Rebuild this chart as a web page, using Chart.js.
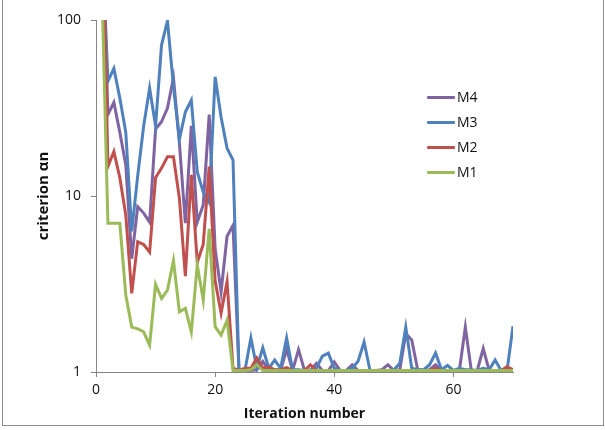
<!DOCTYPE html>
<html>
<head>
<meta charset="utf-8">
<script src="https://cdn.jsdelivr.net/npm/chart.js@4.4.1/dist/chart.umd.min.js"></script>
<style>
  body { margin: 0; background: #fff; }
  #wrap { position: relative; width: 605px; height: 430px; overflow: hidden; }
  #frame { position: absolute; left: 2px; top: -1px; width: 600px; height: 425px; border: 1px solid #8e8e8e; }
  #chart { position: absolute; left: 0; top: 0; }
  #legend { position: absolute; left: 427px; top: 87px; font-family: 'Open Sans', sans-serif; font-size: 14px; color: #111; }
  .item { position: relative; height: 25px; }
  .item span.swatch { position: absolute; left: 0; top: 9px; width: 28px; height: 3px; border-radius: 1px; }
  .item span.label { position: absolute; left: 30px; top: 0; line-height: 20px; }
</style>
</head>
<body>
<div id="wrap">
  <div id="frame"></div>
  <canvas id="chart" width="605" height="430"></canvas>
  <div id="legend"></div>
</div>
<script>
// iteration index (x)
const iterations = [
  1, 2, 3, 4, 5, 6, 7, 8, 9, 10, 11, 12, 13, 14, 15, 16, 17, 18, 19, 20,
  21, 22, 23, 24, 25, 26, 27, 28, 29, 30, 31, 32, 33, 34, 35, 36, 37, 38, 39, 40,
  41, 42, 43, 44, 45, 46, 47, 48, 49, 50, 51, 52, 53, 54, 55, 56, 57, 58, 59, 60,
  61, 62, 63, 64, 65, 66, 67, 68, 69, 70
];

const m1 = [
  150, 7, 7, 7, 2.74, 1.8, 1.76, 1.69, 1.42, 3.15, 2.62, 2.92, 4.3, 2.2, 2.3, 1.69, 4.05, 2.56, 6.5, 1.81,
  1.62, 1.97, 1.02, 1.02, 1.02, 1.03, 1.1, 1.02, 1.02, 1.02, 1.02, 1.02, 1.02, 1.02, 1.02, 1.02, 1.02, 1.02, 1.02, 1.02,
  1.02, 1.02, 1.02, 1.02, 1.02, 1.02, 1.02, 1.02, 1.02, 1.02, 1.02, 1.02, 1.02, 1.02, 1.02, 1.02, 1.02, 1.02, 1.02, 1.02,
  1.02, 1.02, 1.02, 1.02, 1.02, 1.02, 1.02, 1.02, 1.02, 1.02
];
const m2 = [
  600, 14.7, 17.9, 12.7, 7.8, 2.8, 5.5, 5.3, 4.8, 12.7, 14.4, 16.7, 16.7, 9.7, 3.5, 13.2, 4.2, 5.3, 14.7, 3.3,
  2.16, 3.26, 1.05, 1.02, 1.05, 1.05, 1.2, 1.05, 1.07, 1.03, 1.03, 1.06, 1.02, 1.02, 1.02, 1.1, 1.02, 1.02, 1.02, 1.02,
  1.02, 1.02, 1.02, 1.02, 1.02, 1.02, 1.02, 1.02, 1.02, 1.02, 1.02, 1.02, 1.02, 1.02, 1.02, 1.02, 1.05, 1.02, 1.02, 1.02,
  1.02, 1.02, 1.02, 1.02, 1.02, 1.02, 1.02, 1.02, 1.07, 1.03
];
const m3 = [
  300, 45, 53, 36, 23, 6.3, 13, 25, 41, 25, 72, 99, 42, 21, 30, 35, 13.7, 10.5, 9.2, 47.6,
  28, 18.7, 16, 1.02, 1.02, 1.56, 1.05, 1.37, 1.05, 1.17, 1.05, 1.56, 1.03, 1.03, 1.02, 1.03, 1.05, 1.23, 1.28, 1.05,
  1.02, 1.02, 1.05, 1.15, 1.48, 1.02, 1.02, 1.02, 1.02, 1.03, 1.12, 1.8, 1.05, 1.03, 1.03, 1.1, 1.28, 1.03, 1.09, 1.02,
  1.05, 1.03, 1.03, 1.02, 1.05, 1.03, 1.17, 1.02, 1.02, 1.82
];
const m4 = [
  400, 29, 34, 23, 15, 4.4, 8.7, 8, 7.1, 24, 26.4, 31.6, 47, 20, 7, 25, 7.1, 8.9, 29, 5,
  2.86, 5.9, 6.8, 1.02, 1.02, 1.02, 1.03, 1.15, 1.02, 1.03, 1.02, 1.35, 1.02, 1.34, 1.02, 1.02, 1.12, 1.02, 1.02, 1.14,
  1.02, 1.02, 1.1, 1.02, 1.02, 1.02, 1.02, 1.03, 1.1, 1.02, 1.03, 1.65, 1.52, 1.03, 1.02, 1.03, 1.1, 1.02, 1.02, 1.02,
  1.02, 1.8, 1.02, 1.02, 1.36, 1.02, 1.02, 1.02, 1.02, 1.02
];

const seriesNames = ['M1', 'M2', 'M3', 'M4'];
const seriesColors = ['#9BBB59', '#C0504D', '#4F81BD', '#8064A2'];
const seriesValues = [m1, m2, m3, m4];

const xTicks = [0, 20, 40, 60];
const yTicks = [1, 10, 100];

const axisColor = '#868686';
const tickFont = { family: 'Open Sans', size: 14 };

const datasets = seriesValues.map((vals, k) => ({
  label: seriesNames[k],
  data: vals.map((v, i) => ({ x: iterations[i], y: v })),
  borderColor: seriesColors[k],
  backgroundColor: seriesColors[k],
  borderWidth: 3,
  pointRadius: 0,
  tension: 0,
  fill: false
}));

new Chart(document.getElementById('chart').getContext('2d'), {
  type: 'line',
  data: { datasets: datasets },
  options: {
    responsive: false,
    animation: false,
    layout: { padding: { left: 31, top: 20, right: 92, bottom: 4 } },
    plugins: {
      legend: { display: false },
      tooltip: { enabled: false }
    },
    scales: {
      x: {
        type: 'linear',
        min: 0,
        max: 70,
        afterBuildTicks: s => { s.ticks = xTicks.map(v => ({ value: v })); },
        afterFit: s => { s.height = 54; },
        grid: { drawOnChartArea: false, tickLength: 5, color: axisColor },
        border: { color: axisColor },
        ticks: { font: tickFont, color: '#111', padding: 5, maxRotation: 0 },
        title: {
          display: true,
          text: 'Iteration number',
          font: { family: 'Open Sans', size: 14, weight: 'bold' },
          color: '#111',
          padding: { top: 0, bottom: 4 }
        }
      },
      y: {
        type: 'logarithmic',
        min: 1,
        max: 100,
        afterBuildTicks: s => { s.ticks = yTicks.map(v => ({ value: v })); },
        afterFit: s => { s.width = 65; },
        grid: { drawOnChartArea: false, tickLength: 5, color: axisColor },
        border: { color: axisColor },
        ticks: { font: tickFont, color: '#111', padding: 10, callback: v => String(v) },
        title: {
          display: true,
          text: 'criterion αn',
          font: { family: 'Open Sans', size: 15, weight: 'bold' },
          color: '#111',
          padding: { top: 4, bottom: 0 }
        }
      }
    }
  }
});

// legend, listed M4 to M1 like the original
const legend = document.getElementById('legend');
for (let k = seriesNames.length - 1; k >= 0; k--) {
  const item = document.createElement('div');
  item.className = 'item';
  item.innerHTML = '<span class="swatch" style="background:' + seriesColors[k] + '"></span>' +
    '<span class="label">' + seriesNames[k] + '</span>';
  legend.appendChild(item);
}
</script>
</body>
</html>
